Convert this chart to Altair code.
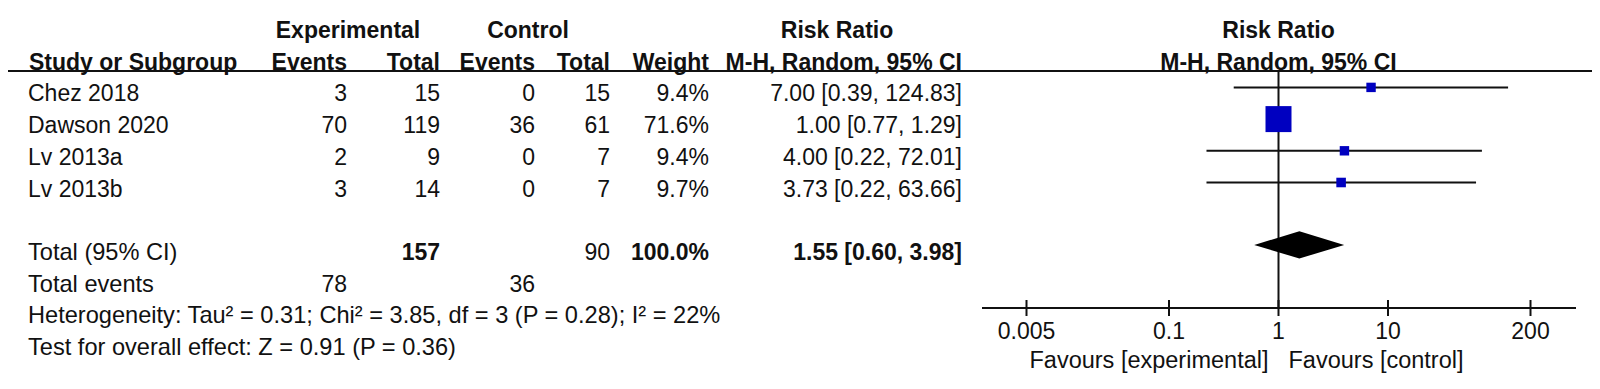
import altair as alt
import pandas as pd

# ---------------- data ----------------
studies = ["Chez 2018", "Dawson 2020", "Lv 2013a", "Lv 2013b"]
exp_events = [3, 70, 2, 3]
exp_total = [15, 119, 9, 14]
ctrl_events = [0, 36, 0, 0]
ctrl_total = [15, 61, 7, 7]
weights = [9.4, 71.6, 9.4, 9.7]
rr = [7.00, 1.00, 4.00, 3.73]
ci_low = [0.39, 0.77, 0.22, 0.22]
ci_high = [124.83, 1.29, 72.01, 63.66]

total_exp = 157
total_ctrl = 90
total_weight = 100.0
pooled_rr = 1.55
pooled_low = 0.60
pooled_high = 3.98
events_exp = 78
events_ctrl = 36
heterogeneity = "Heterogeneity: Tau\u00b2 = 0.31; Chi\u00b2 = 3.85, df = 3 (P = 0.28); I\u00b2 = 22%"
overall = "Test for overall effect: Z = 0.91 (P = 0.36)"

tick_values = [0.005, 0.1, 1, 10, 200]
tick_labels = ["0.005", "0.1", "1", "10", "200"]

# ---------------- layout / style ----------------
FONT = "Liberation Sans"
FS = 23
FS_FOOT = 23.6
TXT = "#111111"
LINE = "#111111"
BLUE = "#0000c0"
W, H = 1584, 373
study_rows = [2, 3, 4, 5]
ROW_TOTAL, ROW_EVENTS, ROW_HET, ROW_TEST = 7, 8, 9, 10
FOREST_DY = -7
DIAMOND_HALF = 0.43

yscale = alt.Scale(domain=[0, 10], range=[23, 340], nice=False, zero=False)
xscale = alt.Scale(type="log", domain=[0.005, 200], range=[1018.5, 1522.5], nice=False, zero=False)

COLS = {"exp_ev": 339, "exp_tot": 432, "ctl_ev": 527, "ctl_tot": 602, "weight": 701, "ci": 954}


def txt(df, x, align="right", bold=False, size=FS, field="text"):
    return alt.Chart(df).mark_text(
        align=align, baseline="middle", font=FONT, fontSize=size,
        fontWeight="bold" if bold else "normal", color=TXT
    ).encode(
        x=alt.value(x),
        y=alt.Y("row:Q", scale=yscale, axis=None),
        text=alt.Text(f"{field}:N"),
    )


def one(row, text):
    return pd.DataFrame({"row": [row], "text": [text]})


layers = []

# headers
layers += [
    txt(one(0, "Experimental"), 340, "center", True),
    txt(one(0, "Control"), 520, "center", True),
    txt(one(0, "Risk Ratio"), 829, "center", True),
    txt(one(1, "Study or Subgroup"), 21, "left", True),
    txt(one(1, "Events"), COLS["exp_ev"], "right", True),
    txt(one(1, "Total"), COLS["exp_tot"], "right", True),
    txt(one(1, "Events"), COLS["ctl_ev"], "right", True),
    txt(one(1, "Total"), COLS["ctl_tot"], "right", True),
    txt(one(1, "Weight"), COLS["weight"], "right", True),
    txt(one(1, "M-H, Random, 95% CI"), COLS["ci"], "right", True),
]

# forest header, centred on the null line
fh = pd.DataFrame({"row": [0, 1], "text": ["Risk Ratio", "M-H, Random, 95% CI"], "one": [1, 1]})
layers.append(
    alt.Chart(fh).mark_text(align="center", baseline="middle", font=FONT, fontSize=FS,
                            fontWeight="bold", color=TXT).encode(
        x=alt.X("one:Q", scale=xscale, axis=None),
        y=alt.Y("row:Q", scale=yscale, axis=None),
        text="text:N",
    )
)

# header underline
layers.append(
    alt.Chart(one(0, "")).mark_rule(color=LINE, strokeWidth=2).encode(
        x=alt.value(0), x2=alt.value(W), y=alt.value(63)
    )
)

# study table
tbl = pd.DataFrame({
    "row": study_rows,
    "study": studies,
    "exp_ev": [str(v) for v in exp_events],
    "exp_tot": [str(v) for v in exp_total],
    "ctl_ev": [str(v) for v in ctrl_events],
    "ctl_tot": [str(v) for v in ctrl_total],
    "weight": [f"{w:.1f}%" for w in weights],
    "ci": [f"{r:.2f} [{l:.2f}, {h:.2f}]" for r, l, h in zip(rr, ci_low, ci_high)],
})
layers.append(txt(tbl, 20, "left", field="study"))
for k, xpos in COLS.items():
    layers.append(txt(tbl, xpos, "right", field=k))

# totals
layers += [
    txt(one(ROW_TOTAL, "Total (95% CI)"), 20, "left", False, FS_FOOT),
    txt(one(ROW_TOTAL, str(total_exp)), COLS["exp_tot"], "right", True),
    txt(one(ROW_TOTAL, str(total_ctrl)), COLS["ctl_tot"], "right", False),
    txt(one(ROW_TOTAL, f"{total_weight:.1f}%"), COLS["weight"], "right", True),
    txt(one(ROW_TOTAL, f"{pooled_rr:.2f} [{pooled_low:.2f}, {pooled_high:.2f}]"), COLS["ci"], "right", True),
    txt(one(ROW_EVENTS, "Total events"), 20, "left", False, FS_FOOT),
    txt(one(ROW_EVENTS, str(events_exp)), COLS["exp_ev"], "right"),
    txt(one(ROW_EVENTS, str(events_ctrl)), COLS["ctl_ev"], "right"),
    txt(one(ROW_HET, heterogeneity), 20, "left", False, FS_FOOT),
    txt(one(ROW_TEST, overall), 20, "left", False, FS_FOOT),
]

# forest plot
fdf = pd.DataFrame({"row": study_rows, "rr": rr, "lo": ci_low, "hi": ci_high, "w": weights})

# null line
layers.append(
    alt.Chart(pd.DataFrame({"one": [1]})).mark_rule(color=LINE, strokeWidth=2).encode(
        x=alt.X("one:Q", scale=xscale, axis=None), y=alt.value(63), y2=alt.value(300)
    )
)
# CI lines
layers.append(
    alt.Chart(fdf).mark_rule(color=LINE, strokeWidth=2, yOffset=FOREST_DY).encode(
        x=alt.X("lo:Q", scale=xscale, axis=None), x2="hi:Q",
        y=alt.Y("row:Q", scale=yscale, axis=None),
    )
)
# squares
layers.append(
    alt.Chart(fdf).mark_square(filled=True, color=BLUE, opacity=1, yOffset=FOREST_DY).encode(
        x=alt.X("rr:Q", scale=xscale, axis=None),
        y=alt.Y("row:Q", scale=yscale, axis=None),
        size=alt.Size("w:Q", scale=alt.Scale(domain=[0, 100], range=[0, 944]), legend=None),
    )
)
# diamond
ddf = pd.DataFrame({
    "x": [pooled_low, pooled_rr, pooled_high],
    "top": [ROW_TOTAL, ROW_TOTAL - DIAMOND_HALF, ROW_TOTAL],
    "bot": [ROW_TOTAL, ROW_TOTAL + DIAMOND_HALF, ROW_TOTAL],
})
layers.append(
    alt.Chart(ddf).mark_area(color="black", opacity=1, yOffset=FOREST_DY - 1, y2Offset=FOREST_DY - 1).encode(
        x=alt.X("x:Q", scale=xscale, axis=None),
        y=alt.Y("top:Q", scale=yscale, axis=None),
        y2="bot:Q",
    )
)

# axis
layers.append(
    alt.Chart(pd.DataFrame({"one": [1]})).mark_rule(color=LINE, strokeWidth=2).encode(
        x=alt.value(974), x2=alt.value(1568), y=alt.value(300)
    )
)
tdf = pd.DataFrame({"v": tick_values, "label": tick_labels})
layers.append(
    alt.Chart(tdf).mark_rule(color=LINE, strokeWidth=2).encode(
        x=alt.X("v:Q", scale=xscale, axis=None), y=alt.value(292), y2=alt.value(308)
    )
)
layers.append(
    alt.Chart(tdf).mark_text(align="center", baseline="middle", font=FONT, fontSize=FS, color=TXT).encode(
        x=alt.X("v:Q", scale=xscale, axis=None), y=alt.value(324), text="label:N"
    )
)
fav = pd.DataFrame({"one": [1]})
layers.append(
    alt.Chart(fav).mark_text(align="right", baseline="middle", font=FONT, fontSize=23.5, color=TXT, dx=-10).encode(
        x=alt.X("one:Q", scale=xscale, axis=None), y=alt.value(353), text=alt.value("Favours [experimental]")
    )
)
layers.append(
    alt.Chart(fav).mark_text(align="left", baseline="middle", font=FONT, fontSize=23.5, color=TXT, dx=10).encode(
        x=alt.X("one:Q", scale=xscale, axis=None), y=alt.value(353), text=alt.value("Favours [control]")
    )
)

chart = alt.layer(*layers).properties(
    width=W, height=H, autosize=alt.AutoSizeParams(type="none"), padding=0, background="white"
).configure_view(strokeWidth=0)

chart.save("out.html", embed_options={"renderer": "svg", "actions": False})
